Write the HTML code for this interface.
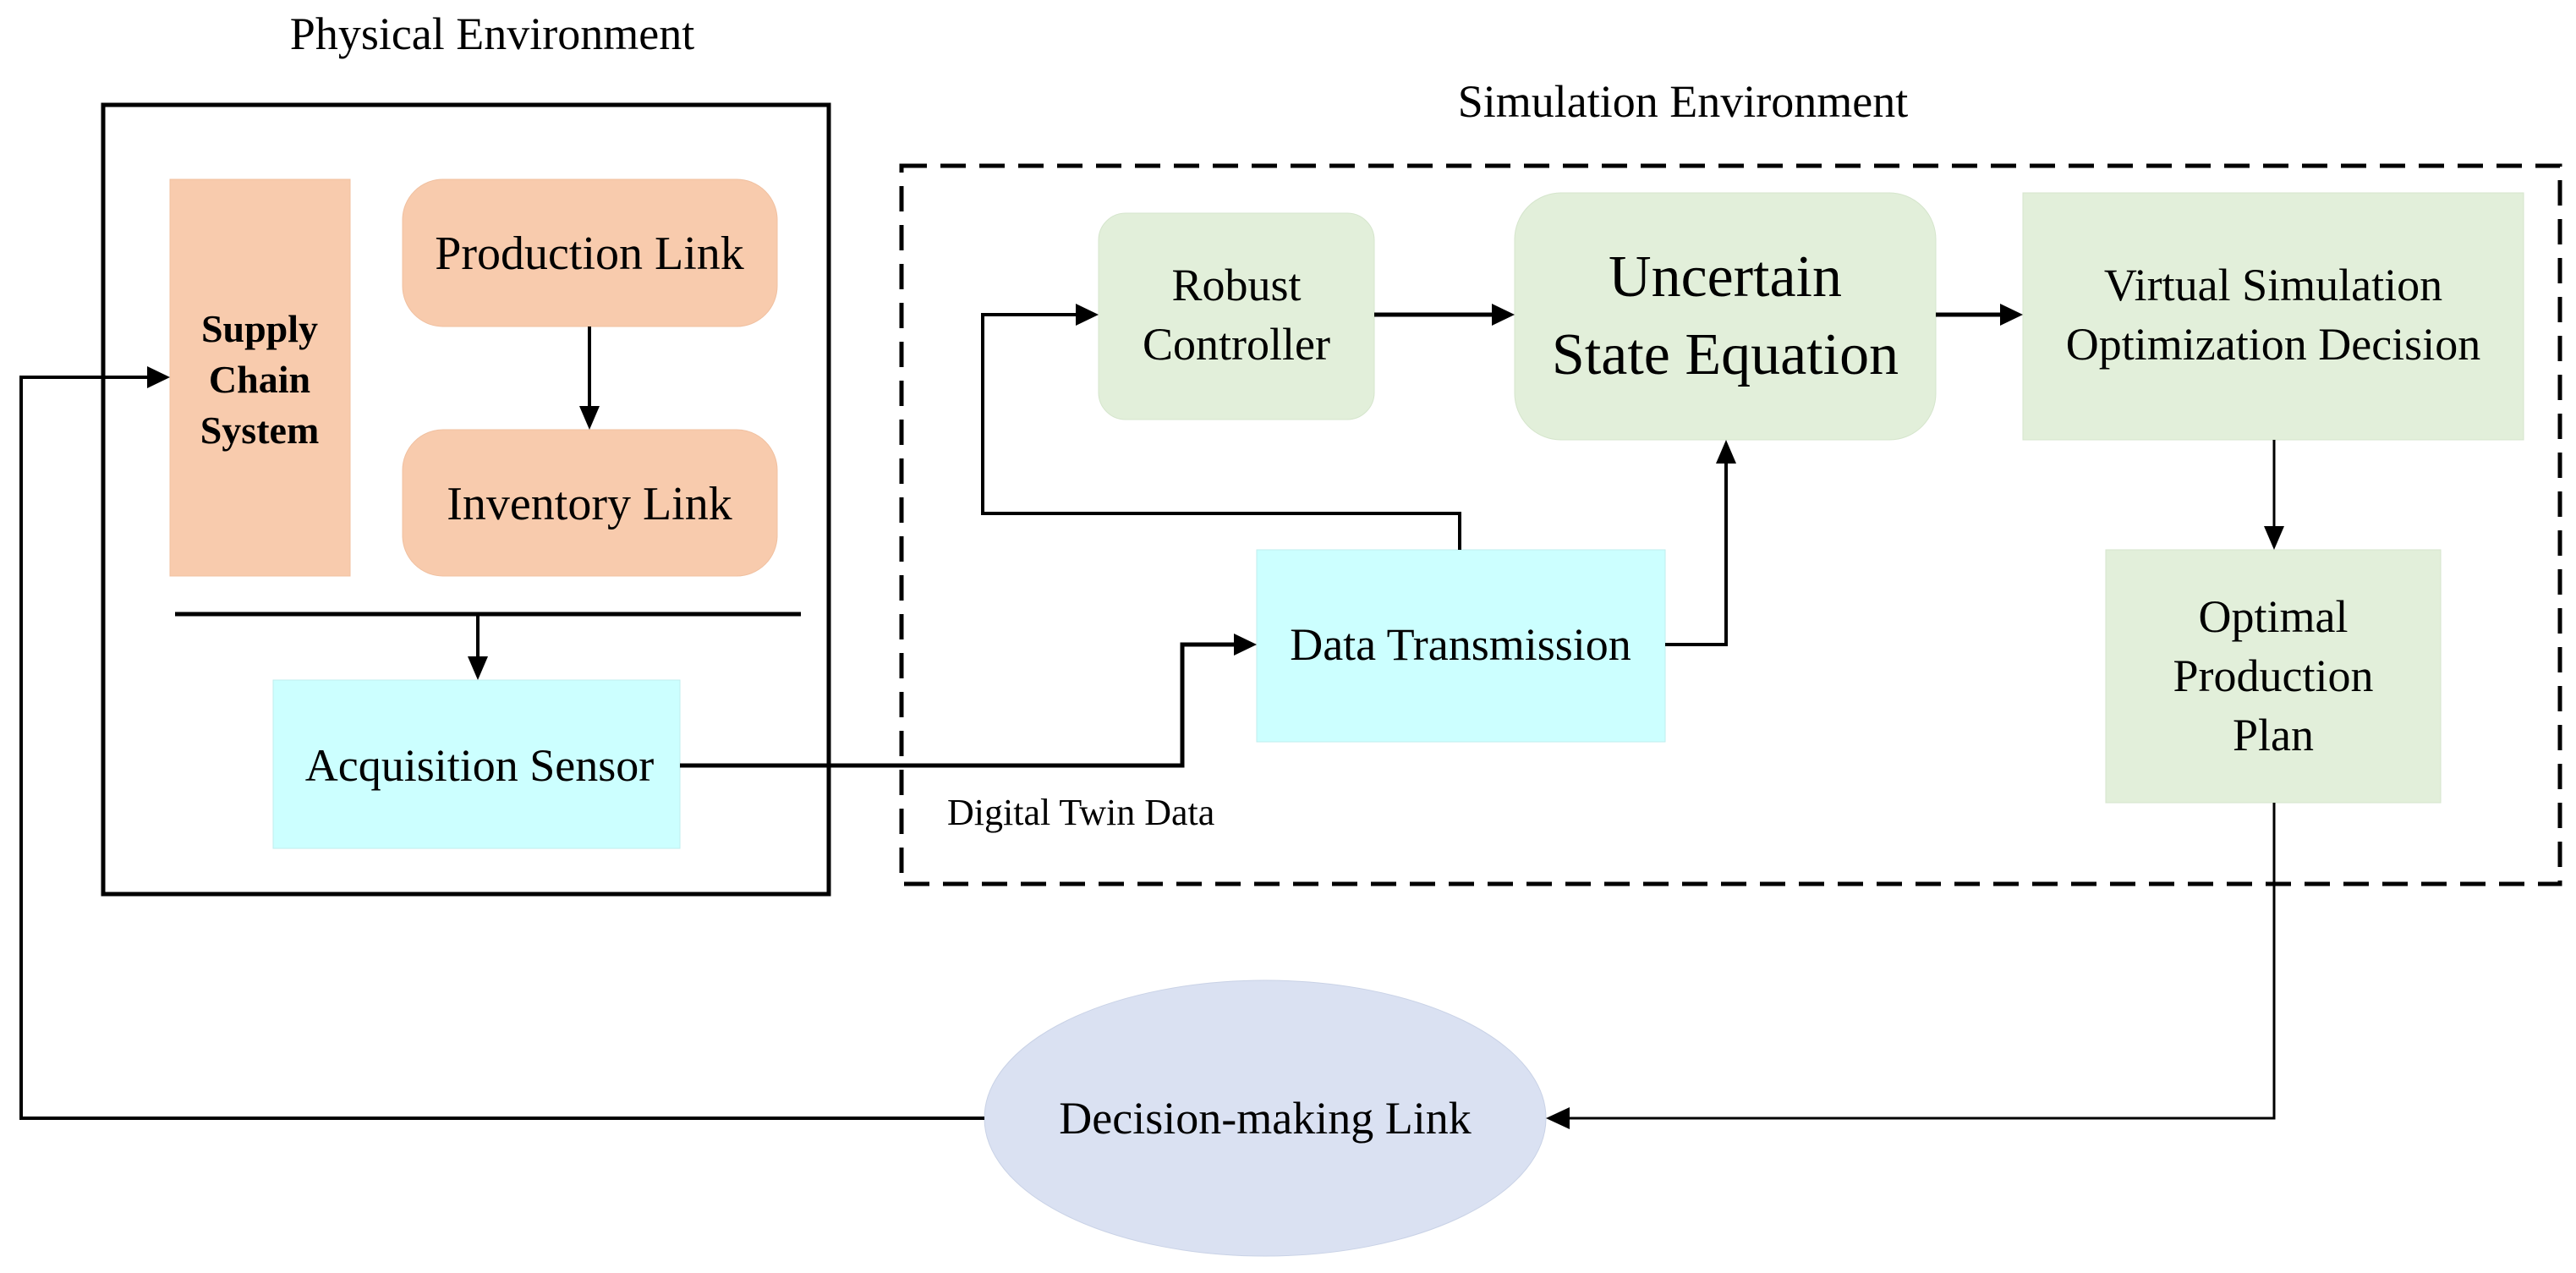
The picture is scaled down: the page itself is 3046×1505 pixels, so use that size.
<!DOCTYPE html>
<html><head><meta charset="utf-8"><style>
html,body{margin:0;padding:0;background:#fff;}
svg{display:block;}
text{font-family:"Liberation Serif",serif;fill:#000;}
</style></head><body>
<svg width="3046" height="1505" viewBox="0 0 3046 1505" xmlns="http://www.w3.org/2000/svg">
<text x="582" y="58" font-size="54" text-anchor="middle">Physical Environment</text>
<text x="1990" y="138" font-size="54" text-anchor="middle">Simulation Environment</text>

<rect x="122" y="124" width="858" height="933" fill="none" stroke="#000" stroke-width="5"/>
<rect x="201" y="212" width="213" height="469" fill="#f8cbad" stroke="#f0c0a0" stroke-width="1"/>
<text font-size="46" font-weight="bold" text-anchor="middle"><tspan x="307" y="404">Supply</tspan><tspan x="307" y="464">Chain</tspan><tspan x="307" y="524">System</tspan></text>
<rect x="476" y="212" width="443" height="174" rx="48" fill="#f8cbad" stroke="#f0c0a0" stroke-width="1"/>
<text x="697" y="318" font-size="56" text-anchor="middle">Production Link</text>
<rect x="476" y="508" width="443" height="173" rx="48" fill="#f8cbad" stroke="#f0c0a0" stroke-width="1"/>
<text x="697" y="614" font-size="56" text-anchor="middle">Inventory Link</text>
<line x1="697" y1="386" x2="697" y2="482" stroke="#000" stroke-width="4"/>
<polygon points="685,480 709,480 697,508" fill="#000"/>
<line x1="207" y1="726" x2="947" y2="726" stroke="#000" stroke-width="5"/>
<line x1="565" y1="726" x2="565" y2="778" stroke="#000" stroke-width="4"/>
<polygon points="553,776 577,776 565,804" fill="#000"/>
<rect x="323" y="804" width="481" height="199" fill="#ccffff" stroke="#bfeeee" stroke-width="1"/>
<text x="567" y="923" font-size="54" text-anchor="middle">Acquisition Sensor</text>

<rect x="1066" y="196" width="1961" height="849" fill="none" stroke="#000" stroke-width="5" stroke-dasharray="30,16"/>
<rect x="1299" y="252" width="326" height="244" rx="32" fill="#e2efda" stroke="#d5e5cc" stroke-width="1"/>
<text font-size="54" text-anchor="middle"><tspan x="1462" y="355">Robust</tspan><tspan x="1462" y="425">Controller</tspan></text>
<rect x="1791" y="228" width="498" height="292" rx="55" fill="#e2efda" stroke="#d5e5cc" stroke-width="1"/>
<text font-size="70" text-anchor="middle"><tspan x="2040" y="350">Uncertain</tspan><tspan x="2040" y="442">State Equation</tspan></text>
<rect x="2392" y="228" width="592" height="292" fill="#e2efda" stroke="#d5e5cc" stroke-width="1"/>
<text font-size="54" text-anchor="middle"><tspan x="2688" y="355">Virtual Simulation</tspan><tspan x="2688" y="425">Optimization Decision</tspan></text>
<rect x="2490" y="650" width="396" height="299" fill="#e2efda" stroke="#d5e5cc" stroke-width="1"/>
<text font-size="54" text-anchor="middle"><tspan x="2688" y="747">Optimal</tspan><tspan x="2688" y="817">Production</tspan><tspan x="2688" y="887">Plan</tspan></text>
<rect x="1486" y="650" width="483" height="227" fill="#ccffff" stroke="#bfeeee" stroke-width="1"/>
<text x="1727" y="780" font-size="54" text-anchor="middle">Data Transmission</text>
<text x="1120" y="975" font-size="44">Digital Twin Data</text>

<line x1="1625" y1="372" x2="1766" y2="372" stroke="#000" stroke-width="5"/>
<polygon points="1764,359 1764,385 1791,372" fill="#000"/>
<line x1="2289" y1="372" x2="2367" y2="372" stroke="#000" stroke-width="5"/>
<polygon points="2365,359 2365,385 2392,372" fill="#000"/>
<polyline points="1726,650 1726,607 1162,607 1162,372 1274,372" fill="none" stroke="#000" stroke-width="4"/>
<polygon points="1272,359 1272,385 1299,372" fill="#000"/>
<polyline points="1969,762 2041,762 2041,546" fill="none" stroke="#000" stroke-width="4"/>
<polygon points="2029,548 2053,548 2041,520" fill="#000"/>
<polyline points="804,905 1398,905 1398,762 1461,762" fill="none" stroke="#000" stroke-width="5"/>
<polygon points="1459,749 1459,775 1486,762" fill="#000"/>
<line x1="2689" y1="520" x2="2689" y2="624" stroke="#000" stroke-width="3"/>
<polygon points="2677,622 2701,622 2689,650" fill="#000"/>
<polyline points="2689,949 2689,1322 1854,1322" fill="none" stroke="#000" stroke-width="3"/>
<ellipse cx="1496" cy="1322" rx="332" ry="163" fill="#dae1f2" stroke="#c9d2e6" stroke-width="1"/>
<polygon points="1856,1309 1856,1335 1828,1322" fill="#000"/>
<text x="1496" y="1340" font-size="54" text-anchor="middle">Decision-making Link</text>
<polyline points="1164,1322 25,1322 25,446 176,446" fill="none" stroke="#000" stroke-width="4"/>
<polygon points="174,433 174,459 201,446" fill="#000"/>
</svg>
</body></html>
